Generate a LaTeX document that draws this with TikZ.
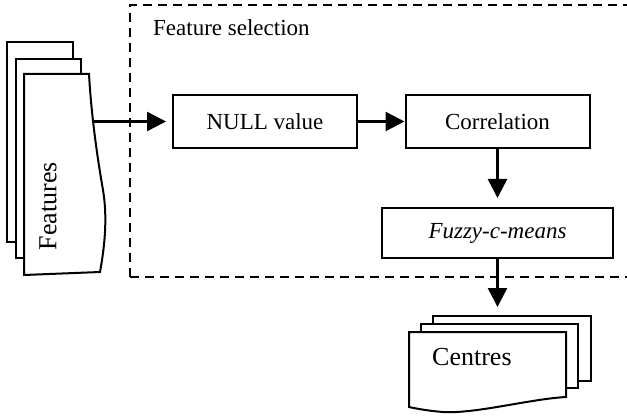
\documentclass[tikz,border=0pt]{standalone}
\usepackage{fontspec}
\setmainfont{Liberation Serif}
\usetikzlibrary{arrows.meta}
\begin{document}
\begin{tikzpicture}[x=1pt,y=-1pt,
  box/.style={draw, line width=2pt, fill=white, minimum width=184pt, minimum height=53pt, inner sep=0pt, font=\fontsize{23}{27}\selectfont},
  arr/.style={line width=2.5pt, -{Triangle[length=19pt,width=19pt]}},
  sheet/.style={draw, line width=2pt, fill=white, line join=miter},
  frame/.style={line width=2pt, dash pattern=on 9pt off 6pt},
  big/.style={font=\fontsize{26}{30}\selectfont},
  mid/.style={font=\fontsize{23}{27}\selectfont}]
\useasboundingbox (0,0) rectangle (627,417);
% dashed frame
\draw[frame] (130,277) -- (130,5) -- (627,5);
\draw[frame] (130,277) -- (627,277);
\node[mid, anchor=base west, inner sep=0pt] (fs) at (153,36) {Feature selection};
% Features stack
\draw[sheet] (7,42) rectangle (73,242);
\draw[sheet] (16,59) rectangle (81,258);
\draw[sheet] (24,74) -- (89,74) .. controls (91,110) and (96,150) .. (103,190) .. controls (108,220) and (104,250) .. (100,272) -- (24,275) -- cycle;
\node[big, rotate=90, inner sep=0pt] (feat) at (48,206) {Features};
\coordinate (fe) at (92,121.5);
% boxes
\node[box] (null) at (265,121.5) {NULL value};
\node[box] (corr) at (497.5,121.5) {Correlation};
\node[box, minimum width=231pt, minimum height=50pt] (fuzzy) at (497.5,233) {\itshape Fuzzy-c-means};
% Centres stack
\draw[sheet] (433,316) rectangle (591,381);
\draw[sheet] (421,324) rectangle (578,388);
\draw[sheet] (409,332) -- (566,332) -- (566,397) .. controls (530,399) and (475,414) .. (443,412) .. controls (430,411) and (418,409) .. (409,407) -- cycle;
\node[big, anchor=base west, inner sep=0pt] (centres) at (432,365) {Centres};
\coordinate (cin) at (497.5,307);
% arrows
\draw[arr, shorten >=6pt] (fe) -- (null.west);
\draw[arr] (null.east) -- (corr.west);
\draw[arr, shorten >=9pt] (corr.south) -- (fuzzy.north);
\draw[arr] (fuzzy.south) -- (cin);
\end{tikzpicture}
\end{document}
